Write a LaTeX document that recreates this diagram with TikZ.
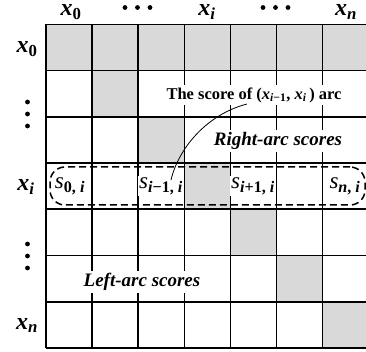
\documentclass[tikz,border=0pt]{standalone}
\usepackage{fontspec}
\setmainfont{Liberation Serif}
\definecolor{cellgray}{RGB}{217,217,217}
\newcommand{\bx}{\textbf{\textit{x}}}
\newcommand{\bsub}[1]{\textsubscript{\bfseries #1}}
\tikzset{
  gridline/.style={line width=1.6pt},
  hdr/.style={font=\fontsize{24}{26}\selectfont\bfseries, inner sep=0pt, anchor=base, text height=9pt, text depth=5pt},
  slabel/.style={font=\fontsize{23}{25}\selectfont, fill=white, inner sep=1pt},
  note/.style={font=\fontsize{19}{21}\selectfont\bfseries\itshape, fill=white, inner sep=2pt},
  callnote/.style={font=\fontsize{16.5}{19}\selectfont\bfseries, fill=white, inner sep=2pt},
  rowbox/.style={draw, line width=1.5pt, dash pattern=on 7pt off 4pt, rounded corners=15pt},
}
\begin{document}
\begin{tikzpicture}[x=1pt,y=-1pt]
\clip (0,0) rectangle (366,352);
\fill[white] (0,0) rectangle (366,352);
% grey cells
\foreach \c in {0,...,6} {
  \fill[cellgray] ({46+46.1*\c},24.5) rectangle ({46+46.1*(\c+1)},70.7);
}
\foreach \r in {1,...,6} {
  \fill[cellgray] ({46+46.1*\r},{24.5+46.2*\r}) rectangle ({46+46.1*(\r+1)},{24.5+46.2*(\r+1)});
}
% grid
\foreach \k in {0,...,7} {
  \draw[gridline] ({46+46.1*\k},24.5) -- ({46+46.1*\k},347.9);
  \draw[gridline] (46,{24.5+46.2*\k}) -- (370,{24.5+46.2*\k});
}
% header labels
\node[hdr] (h0) at (71,16) {\bx\bsub{0}};
\node[hdr] (hi) at (207,16) {\bx\textsubscript{\bfseries\itshape i}};
\node[hdr] (hn) at (346,16) {\bx\textsubscript{\bfseries\itshape n}};
\foreach \xx in {125,137.5,150,263,275.5,288} { \fill (\xx,7.5) circle (2.4); }
% left labels
\node[hdr] (l0) at (27,53) {\bx\bsub{0}};
\node[hdr] (li) at (26,191) {\bx\textsubscript{\bfseries\itshape i}};
\node[hdr] (ln) at (27,329) {\bx\textsubscript{\bfseries\itshape n}};
\foreach \yy in {102,114,126,244,256,268} { \fill (27.5,\yy) circle (2.4); }
% dashed row box
\node[rowbox, minimum width=315pt, minimum height=38pt] (row) at (207.5,186) {};
% s labels
\node[slabel] (s0) at (70,186) {\textit{s}\textsubscript{\bfseries 0, \itshape i}};
\node[slabel] (s1) at (161,186) {\textit{s}\textsubscript{\bfseries\itshape i\upshape −1, \itshape i}};
\node[slabel] (s2) at (253,186) {\textit{s}\textsubscript{\bfseries\itshape i\upshape +1, \itshape i}};
\node[slabel] (s3) at (345,186) {\textit{s}\textsubscript{\bfseries\itshape n\upshape , \itshape i}};
% notes
\node[note] (right) at (278,141) {Right-arc scores};
\node[note] (left) at (142,282) {Left-arc scores};
\node[callnote] (call) at (254,95) {The score of (\bx\textsubscript{\bfseries\itshape i\upshape −1}, \bx\textsubscript{\bfseries\itshape i}\,) arc};
\coordinate (cstart) at (247,104);
\coordinate (cend) at (171,180);
\draw[line width=0.8pt] (cstart) .. controls (205,115) and (178,150) .. (cend);
\end{tikzpicture}
\end{document}
